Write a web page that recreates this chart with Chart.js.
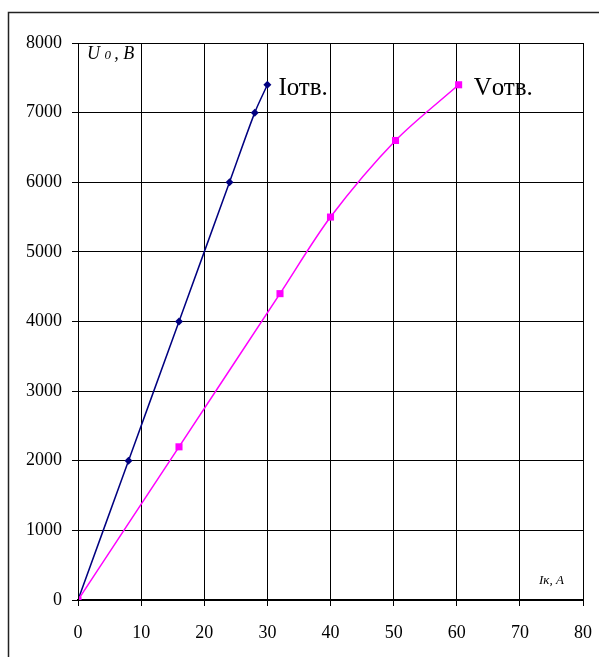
<!DOCTYPE html>
<html>
<head>
<meta charset="utf-8">
<script src="https://cdn.jsdelivr.net/npm/chart.js@4/dist/chart.umd.min.js"></script>
<style>
  html, body { margin: 0; padding: 0; background: #fff; }
  #wrap { width: 599px; height: 657px; position: relative; }
</style>
</head>
<body>
<div id="wrap"><canvas id="c" width="599" height="657"></canvas></div>
<script>
// ---- data ----
const xTicks = [0, 10, 20, 30, 40, 50, 60, 70, 80];
const yTicks = [0, 1000, 2000, 3000, 4000, 5000, 6000, 7000, 8000];

const iotvName = 'Iотв.';
const iotvX = [0, 8, 16, 24, 28, 30];
const iotvY = [0, 2000, 4000, 6000, 7000, 7400];

const votvName = 'Vотв.';
const votvX = [0, 16, 32, 40, 50.3, 60.3];
const votvY = [0, 2200, 4400, 5500, 6600, 7400];

const yAxisTitle = ['U', '0', ', B'];
const xAxisTitle = 'Iк, A';

const toPts = (xs, ys) => xs.map((x, i) => ({ x: x, y: ys[i] }));

const decor = {
  id: 'decor',
  afterDraw(chart) {
    const ctx = chart.ctx;
    const a = chart.chartArea;
    const xs = chart.scales.x, ys = chart.scales.y;
    ctx.save();
    // outer frame (cut by the picture on right and bottom)
    ctx.strokeStyle = '#222';
    ctx.lineWidth = 1.5;
    ctx.beginPath();
    ctx.moveTo(8.5, 657);
    ctx.lineTo(8.5, 12.5);
    ctx.lineTo(599, 12.5);
    ctx.stroke();
    // plot frame
    ctx.lineWidth = 1;
    ctx.strokeStyle = '#000';
    ctx.strokeRect(Math.round(a.left) + 0.5, Math.round(a.top) + 0.5,
                   Math.round(a.right - a.left), Math.round(a.bottom - a.top));
    // series labels
    ctx.fillStyle = '#000';
    ctx.textBaseline = 'alphabetic';
    ctx.textAlign = 'left';
    ctx.font = '25px "Liberation Serif"';
    ctx.fillText(iotvName, xs.getPixelForValue(iotvX[iotvX.length - 1]) + 11,
                 ys.getPixelForValue(iotvY[iotvY.length - 1]) + 10);
    ctx.fillText(votvName, xs.getPixelForValue(votvX[votvX.length - 1]) + 15,
                 ys.getPixelForValue(votvY[votvY.length - 1]) + 10);
    // y axis title
    let tx = a.left + 9, ty = a.top + 16;
    ctx.font = 'italic 18px "Liberation Serif"';
    ctx.fillText(yAxisTitle[0], tx, ty);
    tx += ctx.measureText(yAxisTitle[0] + ' ').width;
    ctx.font = 'italic 13px "Liberation Serif"';
    ctx.fillText(yAxisTitle[1], tx, ty);
    tx += ctx.measureText(yAxisTitle[1] + ' ').width;
    ctx.font = 'italic 18px "Liberation Serif"';
    ctx.fillText(yAxisTitle[2], tx, ty);
    // x axis title
    ctx.font = 'italic 13px "Liberation Serif"';
    ctx.textAlign = 'center';
    ctx.fillText(xAxisTitle, (xs.getPixelForValue(70) + xs.getPixelForValue(80)) / 2, a.bottom - 16);
    ctx.restore();
  }
};

new Chart(document.getElementById('c'), {
  type: 'line',
  data: {
    datasets: [
      {
        label: votvName,
        data: toPts(votvX, votvY),
        borderColor: '#ff00ff',
        backgroundColor: '#ff00ff',
        borderWidth: 1.5,
        pointStyle: 'rect',
        pointRadius: 5,
        pointBorderWidth: 0,
        tension: 0.3,
        fill: false
      },
      {
        label: iotvName,
        data: toPts(iotvX, iotvY),
        borderColor: '#000080',
        backgroundColor: '#000080',
        borderWidth: 1.5,
        pointStyle: 'rectRot',
        pointRadius: 4,
        pointBorderWidth: 0,
        tension: 0.3,
        fill: false
      }
    ]
  },
  options: {
    responsive: false,
    animation: false,
    devicePixelRatio: 1,
    layout: { padding: { left: 0, right: 16, top: 43, bottom: 0 } },
    plugins: { legend: { display: false }, tooltip: { enabled: false } },
    scales: {
      x: {
        type: 'linear',
        min: 0, max: 80,
        afterBuildTicks: (s) => { s.ticks = xTicks.map(v => ({ value: v })); },
        afterFit: (s) => { s.height = 57; s.paddingRight = 0; s.paddingLeft = 0; },
        grid: { color: '#000', lineWidth: 1, tickLength: 6, drawTicks: true },
        border: { display: true, color: '#000', width: 2 },
        ticks: { color: '#000', padding: 16, font: { family: 'Liberation Serif', size: 18 },
                 callback: (v) => String(v) }
      },
      y: {
        type: 'linear',
        min: 0, max: 8000,
        afterBuildTicks: (s) => { s.ticks = yTicks.map(v => ({ value: v })); },
        afterFit: (s) => { s.width = 78; s.paddingTop = 0; s.paddingBottom = 0; },
        grid: { color: '#000', lineWidth: 1, tickLength: 6 },
        border: { display: true, color: '#000', width: 1 },
        ticks: { color: '#000', padding: 10, font: { family: 'Liberation Serif', size: 18 },
                 callback: (v) => String(v) }
      }
    }
  },
  plugins: [decor]
});
</script>
</body>
</html>
